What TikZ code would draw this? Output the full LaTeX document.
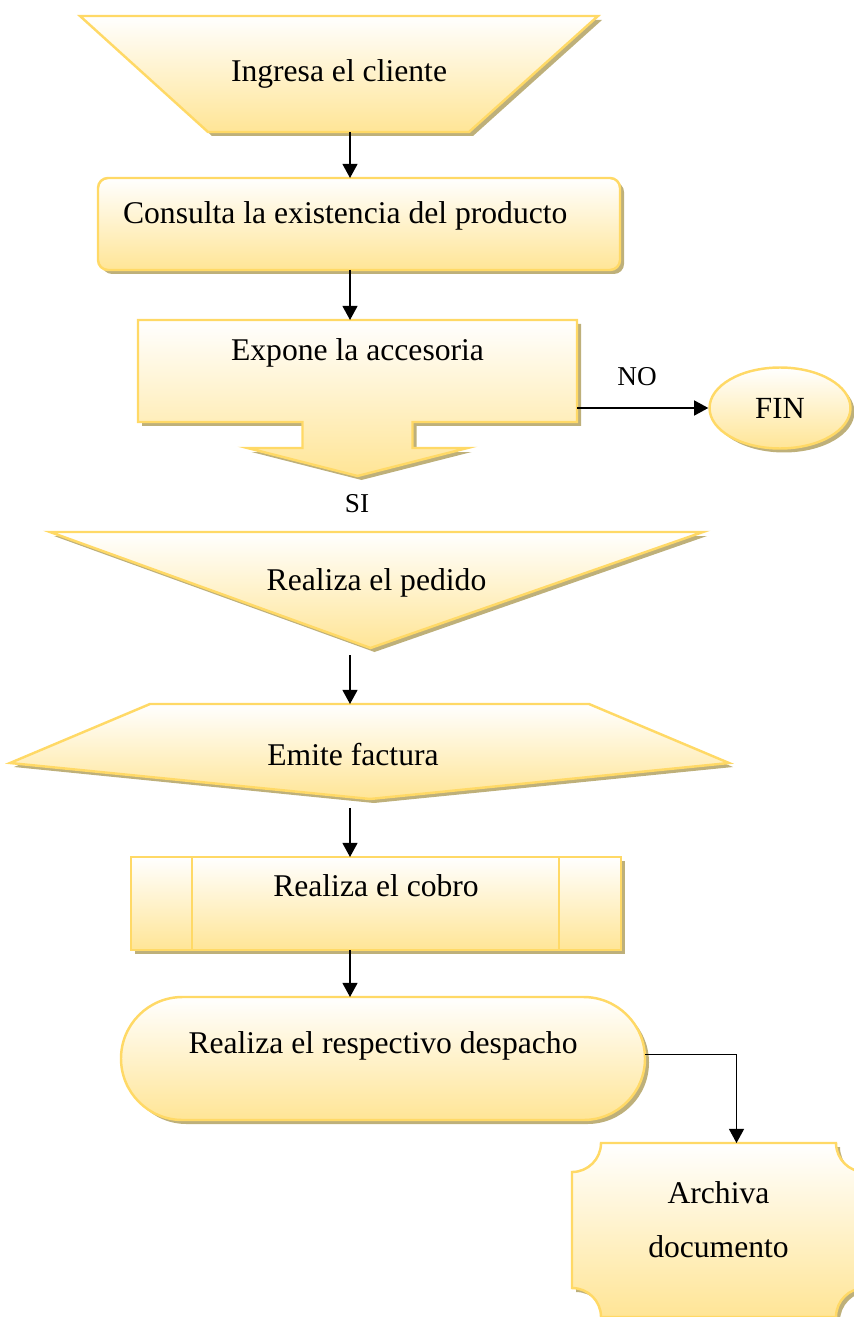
\documentclass[tikz,border=0pt]{standalone}
\usepackage{fontspec}
\setmainfont{Liberation Serif}
\usetikzlibrary{arrows.meta,shapes.geometric,shadows,backgrounds}
\definecolor{gold}{RGB}{255,217,102}
\definecolor{cream}{RGB}{255,229,150}
\definecolor{khaki}{RGB}{190,176,122}
\tikzset{
  box/.style={draw=gold, line width=1.4pt, top color=white, bottom color=cream,
    drop shadow={shadow xshift=0.08cm, shadow yshift=-0.08cm, fill=khaki, opacity=1}},
  panel/.style 2 args={minimum width=#1*0.02cm, minimum height=#2*0.02cm,
    inner sep=0pt, outer sep=0pt, font=\fontsize{18}{21}\selectfont},
  flow/.style={line width=0.8pt, -{Triangle[length=8pt,width=8.5pt]}},
  tag/.style={font=\fontsize{15.5}{18}\selectfont}
}
\begin{document}
\begin{tikzpicture}[x=0.02cm, y=-0.02cm]
\useasboundingbox (0,0) rectangle (854,1317);
\coordinate (spine) at (350,0);

\node[panel={518}{116}, text height=13pt, text depth=4pt] (in) at (339,74) {Ingresa el cliente};
\node[panel={522}{92}, box, rounded corners=0.2cm, inner xsep=0.5cm, text width=9.44cm, align=flush left,
  text height=13pt, text depth=13.5pt] (consult) at (359,224) {Consulta la existencia del producto};
\node[panel={439}{102}, text height=13pt, text depth=25.5pt] (expone) at (357.5,371) {Expone la accesoria};
\node[ellipse, box, minimum width=2.82cm, minimum height=1.62cm, inner sep=0pt,
  font=\fontsize{17.5}{20}\selectfont] (fin) at (780,408) {FIN};
\node[tag] (no) at (637,377) {NO};
\node[tag] (yes) at (357,504) {SI};
\node[panel={653}{116}, text height=13pt, text depth=11.9pt] (order) at (376.5,590) {Realiza el pedido};
\node[panel={686}{95}, text height=20pt, text depth=3.6pt] (bill) at (353,751.5) {Emite factura};
\node[panel={490}{93}, box, text height=13pt, text depth=21pt] (pay) at (376,903.5) {Realiza el cobro};
\node[panel={524}{123}, box, rounded corners=1.23cm, text height=13pt, text depth=19.2pt] (ship) at (383,1058.5) {Realiza el respectivo despacho};
\node[panel={293}{174}, align=center, text depth=12pt, font=\fontsize{18}{31}\selectfont] (file) at (718.5,1230) {Archiva\\documento};

\begin{scope}[on background layer]
\path[box] (in.north west) -- (in.north east) -- ([shift={(-129,0)}]in.south east)
  -- ([shift={(128,0)}]in.south west) -- cycle;
\path[box] (expone.north west) -- (expone.north east) -- (expone.south east)
  -- ([shift={(55,0)}]expone.south) -- ([shift={(55,26)}]expone.south) -- ([shift={(110,26)}]expone.south)
  -- ([shift={(0,54)}]expone.south) -- ([shift={(-110,26)}]expone.south) -- ([shift={(-55,26)}]expone.south)
  -- ([shift={(-55,0)}]expone.south) -- (expone.south west) -- cycle;
\path[box] (order.north west) -- (order.north east) -- ([shift={(-6,0)}]order.south) -- cycle;
\path[box] ([shift={(140,0)}]bill.north west) -- ([shift={(-107,0)}]bill.north east)
  -- ([shift={(33,11.5)}]bill.east) -- ([shift={(17,0)}]bill.south) -- ([shift={(0,11.5)}]bill.west) -- cycle;
\path[box] ([shift={(0,29)}]file.north west) arc[start angle=270, end angle=360, radius=0.58cm]
  -- ([shift={(-29,0)}]file.north east) arc[start angle=180, end angle=270, radius=0.58cm]
  -- ([shift={(0,-29)}]file.south east) arc[start angle=90, end angle=180, radius=0.58cm]
  -- ([shift={(29,0)}]file.south west) arc[start angle=0, end angle=90, radius=0.58cm] -- cycle;
\end{scope}

\draw[gold, line width=1.4pt] ([shift={(61,0)}]pay.north west) -- ([shift={(61,0)}]pay.south west);
\draw[gold, line width=1.4pt] ([shift={(-62,0)}]pay.north east) -- ([shift={(-62,0)}]pay.south east);

\draw[flow] (in.south -| spine) -- (consult.north -| spine);
\draw[flow] (consult.south -| spine) -- (expone.north -| spine);
\draw[flow] (fin.west -| expone.east) -- (fin.west);
\draw[flow, shorten <=4pt] (order.south -| spine) -- (bill.north -| spine);
\draw[flow, shorten <=5pt] (bill.south -| spine) -- (pay.north -| spine);
\draw[flow] (pay.south -| spine) -- (ship.north -| spine);
\draw[flow] ([shift={(0,-4)}]ship.east) -| ([shift={(18,0)}]file.north);
\end{tikzpicture}
\end{document}
